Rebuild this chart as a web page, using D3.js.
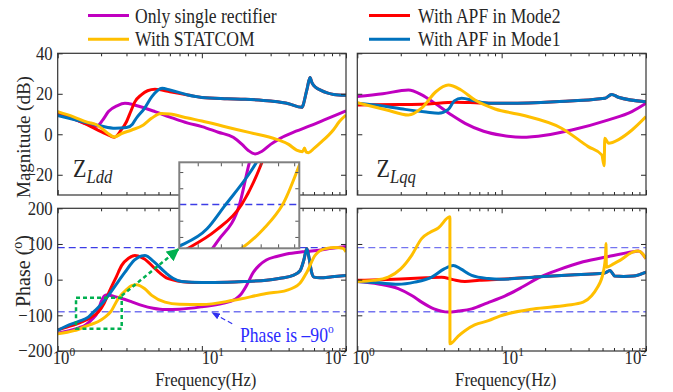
<!DOCTYPE html>
<html>
<head>
<meta charset="utf-8">
<script src="https://d3js.org/d3.v7.min.js"></script>
<style>
  body { margin: 0; background: #fff; }
  svg { display: block; }
  text { font-family: "Liberation Serif", "Times New Roman", serif; fill: #262626; }
</style>
</head>
<body>
<svg id="chart" width="673" height="392"></svg>
<script>
// ---- data: [frequency Hz, value] ----
var seriesNames = ["Only single rectifier", "With STATCOM", "With APF in Mode2", "With APF in Mode1"];
var seriesColors = ["#c000c0", "#ffbf00", "#ff0000", "#0072bd"];

// Z_Ldd magnitude (dB)
var lddMagSingle = [[1,10.4],[1.3,7.5],[1.6,5],[1.87,4],[2.05,7],[2.25,11.2],[2.6,14.2],[2.93,15.3],[3.4,14.5],[4,13],[4.73,11.2],[6,8.5],[8,5.5],[10,3.8],[13,1],[16.5,-1.5],[19,-5],[21,-8],[23.4,-9.7],[26,-8.5],[30,-5],[35,-2],[45,1.5],[56,4.1],[70,7],[85,9.5],[100,11.5]];
var lddMagStatcom = [[1,11.2],[1.3,8.5],[1.6,6],[1.87,4.6],[2.2,0.8],[2.47,-1.3],[2.8,0.5],[3.26,2.1],[3.93,4.6],[4.5,8],[5.2,10.3],[6,10],[8,8],[10,6.6],[15,3.5],[21.6,0.8],[33,-2.5],[40,-5],[45.4,-7.8],[50,-8.6],[51.5,-6.8],[53,-8.8],[55,-9.1],[60,-7],[66,-4.4],[81.6,2.1],[90,6.3],[100,9.5]];
var lddMagMode2 = [[1,10],[1.3,7.5],[1.6,4.8],[2,1.3],[2.2,0],[2.47,-1.5],[2.75,2],[3,6.2],[3.2,11],[3.43,16],[3.8,19.5],[4.2,21.5],[4.73,22.2],[6,21],[8,19.4],[10,18.2],[15,17.6],[20,17.3],[30,16.4],[40,15.1],[49.3,13.3],[53.5,21.9],[56.3,28],[58,25.5],[62,23],[66,21.9],[75,20.3],[82,19.7],[100,19.3]];
var lddMagMode1 = [[1,9.3],[1.3,7.3],[1.5,6.2],[2,4.1],[2.5,3],[3,3.3],[3.3,5],[3.5,7.8],[4,12.8],[4.5,18.6],[5.3,22.7],[6,21.9],[8,19.4],[10,18.2],[15,17.6],[20,17.3],[30,16.4],[40,15.1],[49.3,13.3],[53.5,21.9],[56.3,28],[58,25.5],[62,23],[66,21.9],[75,20.3],[82,19.7],[100,19.3]];

// Z_Lqq magnitude (dB)
var lqqMagSingle = [[1,18.6],[1.5,20],[2.26,21.9],[2.8,19.5],[3.45,15.3],[4.5,9.5],[5.58,5.4],[7.5,1.5],[10,-0.5],[13.8,-1.5],[20,-0.5],[30.6,2.1],[55,7.1],[79.8,11.2],[100,15.3]];
var lqqMagStatcom = [[1,15.6],[1.6,12],[2.26,9.5],[2.8,13],[3.5,21],[4.27,24.3],[5.2,22],[6.54,16.9],[9,12.5],[13.8,9.5],[26,3],[39.8,-6.1],[49.4,-10.2],[51.3,-15.5],[51.8,-2],[55,-4.4],[65,-2.5],[80,2.1],[100,8.7]];
var lqqMagMode2 = [[1,14.5],[2,14.7],[3,15],[4.76,15.8],[7,15.5],[10.5,15.3],[23.4,16.1],[52,17.8],[57.8,19.7],[64.3,18.3],[100,16.1]];
var lqqMagMode1 = [[1,15.3],[1.5,14],[2.14,12.3],[3,11],[3.65,10.4],[4.27,12.3],[4.7,16.5],[5.28,17.8],[6.5,16.5],[8.1,15.3],[10.5,15.3],[23.4,16.1],[52,17.8],[57.8,19.7],[64.3,18.3],[100,16.1]];

// Z_Ldd phase (deg)
var lddPhSingle = [[1,-150],[1.2,-143],[1.4,-135],[1.55,-128],[1.72,-112],[1.9,-90],[2,-62],[2.1,-46],[2.2,-42],[2.4,-46],[2.78,-53],[3.3,-63],[3.83,-72],[4.6,-80],[5.55,-84],[7,-83],[10,-76],[14,-66],[17,-55],[18.4,-44],[20.5,-15],[22.8,21],[25,40],[28,55],[33,65],[38.7,72],[50,78],[63,82],[80,88],[100,93]];
var lddPhStatcom = [[1,-152],[1.3,-143],[1.63,-128],[1.9,-118],[2.13,-105],[2.33,-90],[2.63,-53],[3,-28],[3.26,-17],[3.53,-14],[4,-25],[4.49,-44],[5.55,-63],[7,-69],[10,-70],[16.5,-58],[28,-39],[38.7,-30],[47.7,-11],[53.5,21],[61,68],[72,87],[85,90],[95,88],[100,78]];
var lddPhMode2 = [[1,-141],[1.2,-131],[1.47,-118],[1.7,-106],[1.92,-90],[2.1,-66],[2.3,-30],[2.55,8],[2.78,40],[3.1,60],[3.43,68],[4,58],[4.73,31],[5.85,3],[8.05,-7],[10,-8],[15,-7],[20,-5],[28,-2],[35,4],[43,12],[48,25],[51,55],[53.5,87],[55.5,60],[57.7,21],[60,7],[66,5],[80,8],[100,12]];
var lddPhMode1 = [[1,-142],[1.2,-127],[1.4,-117],[1.63,-105],[1.77,-91],[2,-70],[2.25,-44],[2.6,-8],[2.93,21],[3.4,55],[4.03,68],[4.6,52],[5.55,21],[6.3,4],[7.24,-5],[10,-8],[15,-7],[20,-5],[28,-2],[35,4],[43,12],[48,25],[51,55],[53.5,87],[55.5,60],[57.7,21],[60,7],[66,5],[80,8],[100,12]];

// Z_Lqq phase (deg)
var lqqPhSingle = [[1,-5],[1.4,-12],[1.92,-25],[2.4,-45],[2.79,-63],[3.4,-82],[4.27,-91],[5,-88],[6.2,-82],[8,-65],[9.7,-52],[10.5,-46],[14,-20],[18.4,7],[25,28],[36.7,50],[55,65],[81.6,78],[88.6,80],[100,59]];
var lqqPhStatcom = [[1,-5],[1.3,-2],[1.64,7],[2,30],[2.38,68],[2.79,115],[3.2,133],[3.64,145],[4.38,176],[4.385,-180],[5,-158],[5.57,-143],[6.5,-127],[8.1,-115],[9.7,-102],[16.6,-82],[28.2,-72],[36.7,-63],[42,-45],[45.6,-25],[50.6,21],[52.5,70],[52.8,101],[53.2,35],[60,45],[66,54],[81.6,78],[88,80],[95,72],[100,59]];
var lqqPhMode2 = [[1,-2],[2,2],[3,5],[3.84,7],[4.6,0],[5.57,-5],[7,-2],[9.7,1],[16.6,7],[30,13],[48,17],[52,19],[56.3,26],[59,16],[60.9,10],[70,9],[81.6,10],[100,21]];
var lqqPhMode1 = [[1,-5],[1.4,-9],[1.92,-13],[2.5,-7],[3.28,7],[4,30],[4.62,40],[5.2,30],[6.2,12],[8.1,3],[9.7,1],[16.6,7],[30,13],[48,17],[52,19],[56.3,26],[59,16],[60.9,10],[70,9],[81.6,10],[100,21]];

// tick labels
var magTicks = [-20, 0, 20, 40];
var phaseTicks = [-200, -100, 0, 100, 200];
var freqMajor = [1, 10, 100];
var freqMinor = [2, 3, 4, 5, 6, 7, 8, 9, 20, 30, 40, 50, 60, 70, 80, 90];
var phaseRefLines = [90, -90];

// green box on the phase plot, and the window shown in the inset
var boxFreq = [1.34, 2.78];
var boxPhase = [-137.6, -50.5];
var insetFreq = [1.43, 2.52];
var insetPhase = [-117, -64];
var insetFreqTicks = [1.56, 1.74, 1.92, 2.1, 2.28, 2.46];
var insetPhaseTicks = [-110, -100, -80, -70];

var svg = d3.select("svg#chart");
var lineOrder = [0, 2, 3, 1]; // purple, red, blue, yellow on top
var SX = 0.88; // the source figure is squeezed sideways

function label(parent, x, y, size, anchor) {
    return parent.append("text")
        .attr("transform", "translate(" + x + "," + y + ") scale(" + SX + ",1)")
        .attr("text-anchor", anchor || "start")
        .style("font-size", size + "px");
}

var cols = [{ x0: 57.7, x1: 346 }, { x0: 357.3, x1: 646 }];
var rows = [
    { y0: 53.3, y1: 195, domain: [-30, 40], ticks: magTicks },
    { y0: 208.3, y1: 351, domain: [-200, 200], ticks: phaseTicks }
];
var panelData = [
    [[lddMagSingle, lddMagStatcom, lddMagMode2, lddMagMode1], [lqqMagSingle, lqqMagStatcom, lqqMagMode2, lqqMagMode1]],
    [[lddPhSingle, lddPhStatcom, lddPhMode2, lddPhMode1], [lqqPhSingle, lqqPhStatcom, lqqPhMode2, lqqPhMode1]]
];

var scales = {};
var nof = function () { return ""; };

rows.forEach(function (r, ri) {
    cols.forEach(function (c, ci) {
        var x = d3.scaleLog().domain([1, 100]).range([c.x0, c.x1]);
        var y = d3.scaleLinear().domain(r.domain).range([r.y1, r.y0]);
        scales[ri + "_" + ci] = { x: x, y: y };
        var id = "clip" + ri + ci;
        svg.append("clipPath").attr("id", id).append("rect")
            .attr("x", c.x0).attr("y", r.y0).attr("width", c.x1 - c.x0).attr("height", r.y1 - r.y0);

        var g = svg.append("g");

        // reference lines at +-90 deg
        if (ri === 1) {
            g.selectAll(".ref").data(phaseRefLines).enter().append("line")
                .attr("x1", c.x0).attr("x2", c.x1)
                .attr("y1", function (d) { return y(d); })
                .attr("y2", function (d) { return y(d); })
                .attr("stroke", function (d) { return (d > 0 && ci === 0) ? "#3c3ce6" : "#7474f0"; })
                .attr("stroke-width", 1.3)
                .attr("stroke-dasharray", "7,4");
        }

        var line = d3.line()
            .x(function (d) { return x(d[0]); })
            .y(function (d) { return y(d[1]); })
            .curve(d3.curveMonotoneX);

        var lg = g.append("g").attr("clip-path", "url(#" + id + ")");
        lineOrder.forEach(function (si) {
            lg.append("path")
                .attr("d", line(panelData[ri][ci][si]))
                .attr("fill", "none")
                .attr("stroke", seriesColors[si])
                .attr("stroke-width", 3)
                .attr("stroke-linejoin", "round");
        });

        // axes: ticks inside on all sides
        [["bottom", d3.axisBottom, r.y1], ["top", d3.axisTop, r.y0]].forEach(function (a) {
            g.append("g").attr("transform", "translate(0," + a[2] + ")")
                .call(a[1](x).tickValues(freqMajor).tickSize(-5).tickFormat(nof));
            g.append("g").attr("transform", "translate(0," + a[2] + ")")
                .call(a[1](x).tickValues(freqMinor).tickSize(-3).tickFormat(nof));
        });
        g.append("g").attr("transform", "translate(" + c.x1 + ",0)")
            .call(d3.axisRight(y).tickValues(r.ticks).tickSize(-5).tickFormat(nof));
        g.append("g").attr("transform", "translate(" + c.x0 + ",0)")
            .call(d3.axisLeft(y).tickValues(r.ticks).tickSize(-5).tickFormat(nof));
        g.selectAll(".domain").remove();
        g.selectAll(".tick line").attr("stroke", "#262626");

        g.append("rect")
            .attr("x", c.x0).attr("y", r.y0)
            .attr("width", c.x1 - c.x0).attr("height", r.y1 - r.y0)
            .attr("fill", "none").attr("stroke", "#333").attr("stroke-width", 1.2);

        if (ci === 0) {
            r.ticks.forEach(function (t) {
                label(g, c.x0 - 5, y(t) + 6.3, 19, "end").text(d3.format("d")(t));
            });
        }

        // frequency labels on the bottom row
        if (ri === 1) {
            freqMajor.forEach(function (f, i) {
                var t = label(g, x(f) + [-5, 11, 1][i], 364, 19, ["start", "middle", "end"][i]);
                t.append("tspan").text("10");
                t.append("tspan").attr("dy", -8).style("font-size", "13px")
                    .text(Math.round(Math.log10(f)));
            });
            label(g, (c.x0 + c.x1) / 2 + 4, 386, 19, "middle").text("Frequency(Hz)");
        }
    });
});

// y axis titles
svg.append("text")
    .attr("transform", "translate(30,137) rotate(-90)")
    .attr("text-anchor", "middle").style("font-size", "19px")
    .text("Magnitude (dB)");
var ph = svg.append("text")
    .attr("transform", "translate(30,271) rotate(-90)")
    .attr("text-anchor", "middle").style("font-size", "20px");
ph.append("tspan").text("Phase (");
ph.append("tspan").attr("dy", -8).style("font-size", "14px").text("o");
ph.append("tspan").attr("dy", 8).text(")");

// Z labels
function zLabel(x0, sub) {
    var t = label(svg, x0, 177, 25);
    t.append("tspan").text("Z");
    t.append("tspan").attr("dy", 6).style("font-size", "19px").style("font-style", "italic").text(sub);
}
zLabel(73, "Ldd");
zLabel(376.5, "Lqq");

// "Phase is -90" annotation
var sBL = scales["1_0"];
var annX = sBL.x(11.8), annY = sBL.y(-90);
svg.append("defs").html(
    '<marker id="blueHead" viewBox="0 0 10 10" refX="9" refY="5" markerWidth="7" markerHeight="7" orient="auto">' +
    '<path d="M0,1 L10,5 L0,9 Z" fill="#3030f0"/></marker>' +
    '<marker id="greenHead" viewBox="0 0 10 10" refX="9" refY="5" markerWidth="5" markerHeight="5" orient="auto">' +
    '<path d="M0,0 L10,5 L0,10 Z" fill="#00b050"/></marker>');
svg.append("line")
    .attr("x1", annX + 20).attr("y1", annY + 12)
    .attr("x2", annX).attr("y2", annY + 1)
    .attr("stroke", "#3030f0").attr("stroke-width", 1.2)
    .attr("stroke-dasharray", "5,3")
    .attr("marker-end", "url(#blueHead)");
var pt = label(svg, 240, 342, 20).style("fill", "#2b2bff");
pt.append("tspan").text("Phase is \u201390");
pt.append("tspan").attr("dy", -9).style("font-size", "13px").text("o");

// green zoom box and arrow
var bx0 = sBL.x(boxFreq[0]), bx1 = sBL.x(boxFreq[1]);
var by0 = sBL.y(boxPhase[1]), by1 = sBL.y(boxPhase[0]);
svg.append("rect")
    .attr("x", bx0).attr("y", by0).attr("width", bx1 - bx0).attr("height", by1 - by0)
    .attr("fill", "none").attr("stroke", "#00b050").attr("stroke-width", 2.5)
    .attr("stroke-dasharray", "4,3");

// inset
var inset = { x0: 179.3, x1: 299.3, y0: 162.3, y1: 248.3 };
var ix = d3.scaleLog().domain(insetFreq).range([inset.x0, inset.x1]);
var iy = d3.scaleLinear().domain(insetPhase).range([inset.y1, inset.y0]);

svg.append("line")
    .attr("x1", bx1).attr("y1", by0 - 2)
    .attr("x2", inset.x0 - 1).attr("y2", inset.y1 + 1)
    .attr("stroke", "#00b050").attr("stroke-width", 2.5)
    .attr("stroke-dasharray", "4,3")
    .attr("marker-end", "url(#greenHead)");

var ig = svg.append("g");
ig.append("rect")
    .attr("x", inset.x0).attr("y", inset.y0)
    .attr("width", inset.x1 - inset.x0).attr("height", inset.y1 - inset.y0)
    .attr("fill", "#fff");
svg.append("clipPath").attr("id", "clipInset").append("rect")
    .attr("x", inset.x0).attr("y", inset.y0)
    .attr("width", inset.x1 - inset.x0).attr("height", inset.y1 - inset.y0);
ig.append("line")
    .attr("x1", inset.x0).attr("x2", inset.x1)
    .attr("y1", iy(-90)).attr("y2", iy(-90))
    .attr("stroke", "#3c3ce6").attr("stroke-width", 1.3).attr("stroke-dasharray", "7,4");
var iline = d3.line()
    .x(function (d) { return ix(d[0]); })
    .y(function (d) { return iy(d[1]); })
    .curve(d3.curveMonotoneX);
var icl = ig.append("g").attr("clip-path", "url(#clipInset)");
lineOrder.forEach(function (si) {
    icl.append("path")
        .attr("d", iline(panelData[1][0][si]))
        .attr("fill", "none")
        .attr("stroke", seriesColors[si])
        .attr("stroke-width", 3);
});
ig.append("g").attr("transform", "translate(0," + inset.y1 + ")")
    .call(d3.axisBottom(ix).tickValues(insetFreqTicks).tickSize(-4).tickFormat(nof));
ig.append("g").attr("transform", "translate(0," + inset.y0 + ")")
    .call(d3.axisTop(ix).tickValues(insetFreqTicks).tickSize(-4).tickFormat(nof));
ig.append("g").attr("transform", "translate(" + inset.x0 + ",0)")
    .call(d3.axisLeft(iy).tickValues(insetPhaseTicks).tickSize(-4).tickFormat(nof));
ig.append("g").attr("transform", "translate(" + inset.x1 + ",0)")
    .call(d3.axisRight(iy).tickValues(insetPhaseTicks).tickSize(-4).tickFormat(nof));
ig.selectAll(".domain").remove();
ig.selectAll(".tick line").attr("stroke", "#555");
ig.append("rect")
    .attr("x", inset.x0).attr("y", inset.y0)
    .attr("width", inset.x1 - inset.x0).attr("height", inset.y1 - inset.y0)
    .attr("fill", "none").attr("stroke", "#808080").attr("stroke-width", 2);

// legend
var legendPos = [
    { lx: 88, tx: 135, y: 15.5 },
    { lx: 88, tx: 135, y: 39.3 },
    { lx: 369, tx: 418, y: 15.5 },
    { lx: 369, tx: 418, y: 39.3 }
];
var leg = svg.append("g");
seriesNames.forEach(function (name, i) {
    var p = legendPos[i];
    leg.append("line")
        .attr("x1", p.lx).attr("x2", p.lx + 41)
        .attr("y1", p.y).attr("y2", p.y)
        .attr("stroke", seriesColors[i])
        .attr("stroke-width", 3);
    label(leg, p.tx, p.y + 7, 20).text(name);
});
</script>
</body>
</html>
